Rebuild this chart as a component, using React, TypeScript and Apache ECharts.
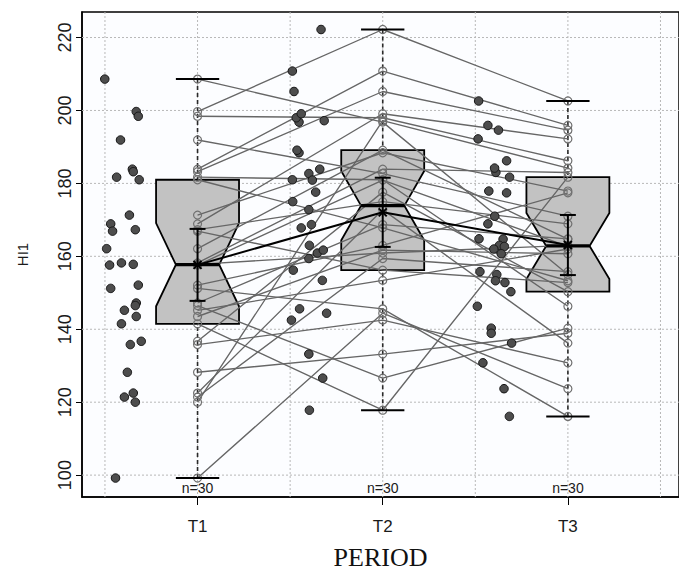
import React, { useEffect, useRef } from "react";
import * as echarts from "echarts";

// ---------------- data ----------------
const periods = ["T1", "T2", "T3"];

// one entry per subject (paired across periods)
const t1Values = [208.6, 199.7, 198.4, 191.9, 183.9, 183.2, 181.7, 181.0, 171.3, 168.9, 167.3, 166.9, 162.1, 158.2, 157.8, 157.6, 152.1, 151.2, 147.2, 146.5, 145.2, 143.5, 141.5, 136.7, 135.8, 128.2, 122.5, 121.4, 120.0, 99.2];
const t2Values = [196.8, 222.2, 198.0, 182.7, 210.8, 205.2, 181.0, 167.8, 188.4, 199.1, 175.0, 156.2, 189.1, 183.9, 160.9, 180.9, 163.0, 145.6, 168.7, 126.6, 153.4, 161.7, 117.8, 177.6, 142.5, 133.2, 172.8, 159.4, 197.2, 144.4];
const t3Values = [155.0, 202.6, 186.2, 171.0, 195.9, 194.6, 146.3, 153.3, 177.9, 192.2, 168.9, 152.8, 164.7, 183.0, 163.0, 162.7, 177.4, 116.1, 164.8, 140.3, 162.0, 160.7, 181.7, 150.3, 130.8, 138.9, 136.2, 155.8, 184.2, 123.7];

// horizontal jitter of the raw points (offset from the period position)
const t1Jitter = [-0.501, -0.331, -0.320, -0.416, -0.352, -0.347, -0.437, -0.315, -0.368, -0.469, -0.336, -0.459, -0.491, -0.411, -0.347, -0.475, -0.320, -0.469, -0.331, -0.336, -0.395, -0.331, -0.411, -0.304, -0.363, -0.379, -0.347, -0.395, -0.336, -0.443];
const t2Jitter = [-0.452, -0.333, -0.467, -0.399, -0.488, -0.479, -0.488, -0.440, -0.452, -0.440, -0.486, -0.483, -0.463, -0.340, -0.353, -0.380, -0.396, -0.449, -0.385, -0.324, -0.326, -0.321, -0.396, -0.362, -0.493, -0.399, -0.399, -0.399, -0.316, -0.303];
const t3Jitter = [-0.384, -0.482, -0.331, -0.395, -0.432, -0.375, -0.489, -0.391, -0.427, -0.485, -0.432, -0.340, -0.350, -0.389, -0.370, -0.343, -0.331, -0.316, -0.480, -0.414, -0.400, -0.360, -0.315, -0.308, -0.459, -0.414, -0.304, -0.475, -0.396, -0.345];

const yTicks = [100, 120, 140, 160, 180, 200, 220];
const xGridLines = [0.5, 1, 1.5, 2, 2.5, 3, 3.5];

// ---------------- statistics ----------------
function fivenum(arr: number[]) {
  const s = [...arr].sort((a, b) => a - b);
  const n = s.length;
  const n4 = Math.floor((n + 3) / 2) / 2;
  const d = [1, n4, (n + 1) / 2, n + 1 - n4, n];
  return d.map((di) => 0.5 * (s[Math.floor(di) - 1] + s[Math.ceil(di) - 1]));
}

const T_CRIT = 2.045; // t(0.975, df = 29)

const groups = [t1Values, t2Values, t3Values];
const jitters = [t1Jitter, t2Jitter, t3Jitter];

const stats = groups.map((vals, i) => {
  const [, q1, med, q3] = fivenum(vals);
  const iqr = q3 - q1;
  const inside = vals.filter((v) => v >= q1 - 1.5 * iqr && v <= q3 + 1.5 * iqr);
  const lo = Math.min(...inside);
  const hi = Math.max(...inside);
  const n = vals.length;
  const notch = (1.58 * iqr) / Math.sqrt(n);
  const mean = vals.reduce((a, b) => a + b, 0) / n;
  const sd = Math.sqrt(vals.reduce((a, b) => a + (b - mean) * (b - mean), 0) / (n - 1));
  const ci = (T_CRIT * sd) / Math.sqrt(n);
  return { pos: i + 1, lo, q1, med, q3, hi, nLo: med - notch, nHi: med + notch, mean, ciLo: mean - ci, ciHi: mean + ci, n };
});

const SANS = "'Liberation Sans', Arial, Helvetica, sans-serif";
const SERIF = "'Liberation Serif', 'Times New Roman', serif";

const BOX_HALF = 0.224;
const NOTCH_HALF = 0.117;
const CAP_HALF = 0.117;
const CI_CAP = 0.043;

export default function App() {
  const ref = useRef<HTMLDivElement>(null);

  useEffect(() => {
    if (!ref.current) return;
    const chart = echarts.init(ref.current, undefined, { renderer: "svg" });

    const subjectSeries = t1Values.map((_, i) => ({
      type: "line",
      silent: true,
      z: 3,
      data: [
        [1, t1Values[i]],
        [2, t2Values[i]],
        [3, t3Values[i]],
      ],
      symbol: "circle",
      symbolSize: 8,
      lineStyle: { color: "#666666", width: 1.35 },
      itemStyle: { color: "rgba(0,0,0,0)", borderColor: "#707070", borderWidth: 1.2 },
      emphasis: { disabled: true },
    }));

    const jitterData: number[][] = [];
    groups.forEach((vals, g) => {
      vals.forEach((v, i) => jitterData.push([g + 1 + jitters[g][i], v]));
    });

    const option: any = {
      animation: false,
      backgroundColor: "#ffffff",
      grid: {
        left: 82,
        top: 12,
        right: -7.5,
        bottom: 74,
        show: true,
        borderColor: "#000",
        borderWidth: 1.5,
        backgroundColor: "#fcfdff",
      },
      xAxis: {
        type: "value",
        min: 0.376,
        max: 3.6,
        name: "PERIOD",
        nameLocation: "middle",
        nameGap: 47,
        nameTextStyle: { fontFamily: SERIF, fontSize: 26, color: "#111" },
        axisLine: { show: true, lineStyle: { color: "#000", width: 1.5 } },
        axisTick: { show: true, customValues: [1, 2, 3], length: 8, lineStyle: { color: "#000", width: 1 } },
        axisLabel: {
          customValues: [1, 2, 3],
          formatter: (v: number) => periods[Math.round(v) - 1] ?? "",
          fontFamily: SANS,
          fontSize: 17,
          color: "#1a1a1a",
          margin: 21,
        },
        splitLine: { show: false },
      },
      yAxis: {
        type: "value",
        min: 94,
        max: 227,
        name: "HI1",
        nameLocation: "middle",
        nameRotate: 90,
        nameGap: 52,
        nameTextStyle: { fontFamily: SANS, fontSize: 15, color: "#1a1a1a" },
        axisLine: { show: true, lineStyle: { color: "#000", width: 1.5 } },
        axisTick: { show: true, customValues: yTicks, length: 6, lineStyle: { color: "#000", width: 1 } },
        axisLabel: {
          customValues: yTicks,
          rotate: 90,
          fontFamily: SANS,
          fontSize: 18,
          color: "#1a1a1a",
          margin: 8,
        },
        splitLine: { show: false },
      },
      series: [
        // horizontal grid lines
        {
          type: "custom",
          silent: true,
          z: 1,
          data: yTicks.map((v) => [1, v]),
          renderItem: (params: any, api: any) => {
            const cs = params.coordSys;
            const y = api.coord([1, api.value(1)])[1];
            return {
              type: "line",
              shape: { x1: cs.x, y1: y, x2: cs.x + cs.width, y2: y },
              style: { stroke: "#b8b8b8", lineWidth: 1, lineDash: [2, 2] },
            };
          },
        },
        // vertical grid lines
        {
          type: "custom",
          silent: true,
          z: 1,
          data: xGridLines.map((v) => [v, 150]),
          renderItem: (params: any, api: any) => {
            const cs = params.coordSys;
            const x = api.coord([api.value(0), 150])[0];
            return {
              type: "line",
              shape: { x1: x, y1: cs.y, x2: x, y2: cs.y + cs.height },
              style: { stroke: "#b8b8b8", lineWidth: 1, lineDash: [2, 2] },
            };
          },
        },
        // notched boxes + whiskers
        {
          type: "custom",
          silent: true,
          z: 2,
          data: stats.map((s) => [s.pos, s.lo, s.q1, s.nLo, s.med, s.nHi, s.q3, s.hi]),
          renderItem: (params: any, api: any) => {
            const p = api.value(0);
            const lo = api.value(1), q1 = api.value(2), nLo = api.value(3), med = api.value(4);
            const nHi = api.value(5), q3 = api.value(6), hi = api.value(7);
            const c = (x: number, y: number) => api.coord([x, y]);
            const pts = [
              c(p - BOX_HALF, q3), c(p + BOX_HALF, q3), c(p + BOX_HALF, nHi), c(p + NOTCH_HALF, med),
              c(p + BOX_HALF, nLo), c(p + BOX_HALF, q1), c(p - BOX_HALF, q1), c(p - BOX_HALF, nLo),
              c(p - NOTCH_HALF, med), c(p - BOX_HALF, nHi),
            ];
            const top = c(p, hi), q3p = c(p, q3), q1p = c(p, q1), bot = c(p, lo);
            return {
              type: "group",
              children: [
                { type: "line", shape: { x1: top[0], y1: top[1], x2: q3p[0], y2: q3p[1] }, style: { stroke: "#2a2a2a", lineWidth: 1.6, lineDash: [4, 3] } },
                { type: "line", shape: { x1: bot[0], y1: bot[1], x2: q1p[0], y2: q1p[1] }, style: { stroke: "#2a2a2a", lineWidth: 1.6, lineDash: [4, 3] } },
                { type: "polygon", shape: { points: pts }, style: { fill: "#c2c2c2", stroke: "#000", lineWidth: 1.8 } },
              ],
            };
          },
        },
        ...subjectSeries,
        // raw (jittered) points
        {
          type: "scatter",
          silent: true,
          z: 5,
          data: jitterData,
          symbol: "circle",
          symbolSize: 8.5,
          itemStyle: { color: "#4d4d4d", borderColor: "#151515", borderWidth: 1, opacity: 1 },
        },
        // median, whisker caps, CI and mean
        {
          type: "custom",
          silent: true,
          z: 6,
          data: stats.map((s) => [s.pos, s.med, s.ciLo, s.mean, s.ciHi, s.lo, s.hi]),
          renderItem: (params: any, api: any) => {
            const p = api.value(0);
            const med = api.value(1), ciLo = api.value(2), mean = api.value(3), ciHi = api.value(4);
            const lo = api.value(5), hi = api.value(6);
            const c = (x: number, y: number) => api.coord([x, y]);
            const mL = c(p - NOTCH_HALF, med), mR = c(p + NOTCH_HALF, med);
            const hL = c(p - CAP_HALF, hi), hR = c(p + CAP_HALF, hi);
            const lL = c(p - CAP_HALF, lo), lR = c(p + CAP_HALF, lo);
            const cT = c(p, ciHi), cB = c(p, ciLo);
            const ctL = c(p - CI_CAP, ciHi), ctR = c(p + CI_CAP, ciHi);
            const cbL = c(p - CI_CAP, ciLo), cbR = c(p + CI_CAP, ciLo);
            const m = c(p, mean);
            const k = 4;
            const blk = { stroke: "#000", lineWidth: 2 };
            return {
              type: "group",
              children: [
                { type: "line", shape: { x1: hL[0], y1: hL[1], x2: hR[0], y2: hR[1] }, style: blk },
                { type: "line", shape: { x1: lL[0], y1: lL[1], x2: lR[0], y2: lR[1] }, style: blk },
                { type: "line", shape: { x1: mL[0], y1: mL[1], x2: mR[0], y2: mR[1] }, style: { stroke: "#000", lineWidth: 3.2 } },
                { type: "line", shape: { x1: cT[0], y1: cT[1], x2: cB[0], y2: cB[1] }, style: blk },
                { type: "line", shape: { x1: ctL[0], y1: ctL[1], x2: ctR[0], y2: ctR[1] }, style: blk },
                { type: "line", shape: { x1: cbL[0], y1: cbL[1], x2: cbR[0], y2: cbR[1] }, style: blk },
                { type: "line", shape: { x1: m[0] - k, y1: m[1] - k, x2: m[0] + k, y2: m[1] + k }, style: blk },
                { type: "line", shape: { x1: m[0] - k, y1: m[1] + k, x2: m[0] + k, y2: m[1] - k }, style: blk },
              ],
            };
          },
        },
        // mean connecting line
        {
          type: "line",
          silent: true,
          z: 6,
          data: stats.map((s) => [s.pos, s.mean]),
          symbol: "none",
          lineStyle: { color: "#000", width: 2 },
        },
        // n = labels
        {
          type: "custom",
          silent: true,
          z: 7,
          data: stats.map((s) => [s.pos, s.n]),
          renderItem: (params: any, api: any) => {
            const cs = params.coordSys;
            const x = api.coord([api.value(0), 150])[0];
            return {
              type: "text",
              x,
              y: cs.y + cs.height - 2,
              style: {
                text: "n=" + api.value(1),
                textAlign: "center",
                textVerticalAlign: "bottom",
                fontSize: 14,
                fontFamily: SANS,
                fill: "#1a1a1a",
              },
            };
          },
        },
      ],
    };

    chart.setOption(option);
    return () => chart.dispose();
  }, []);

  return (
    <div
      ref={ref}
      style={{ position: "fixed", left: 0, top: 0, width: 679, height: 575, background: "#fff" }}
    />
  );
}
